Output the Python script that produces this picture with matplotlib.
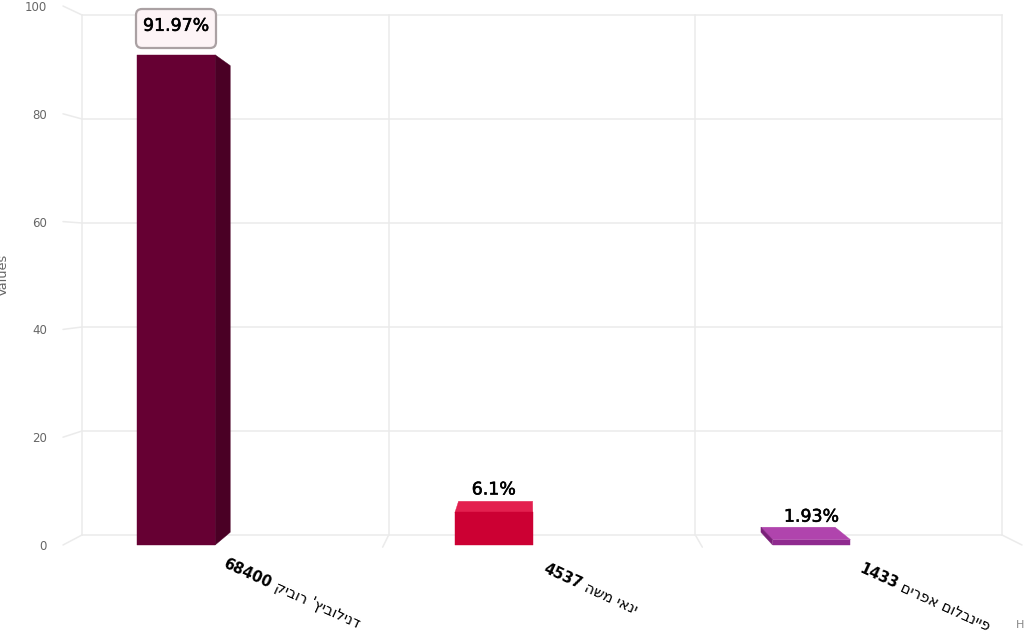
import matplotlib.pyplot as plt
import matplotlib.patheffects as pe
from matplotlib.patches import ConnectionPatch, FancyBboxPatch, Polygon
from matplotlib.transforms import Affine2D

# chart data
names = ["דנילוביץ' רוביק", "ינאי משה", "פיינבלום אפרים"]
counts = ["68400", "4537", "1433"]
percent_labels = ["91.97%", "6.1%", "1.93%"]
# bar heights, the last one is drawn shorter than its label says
bar_values = [91.97, 6.1, 1.0]
y_ticks = [0, 20, 40, 60, 80, 100]

front_colors = ["#660033", "#cc0033", "#8f2a8f"]
top_colors = ["#7a1347", "#e3204f", "#b044ad"]
side_colors = ["#4a0025", "#a80029", "#7a2079"]

W, H = 1024, 636
GREY = "#666666"
GRID = "#ebebeb"

fig = plt.figure(figsize=(W / 100, H / 100), dpi=100)


def rect(left, top, right, bottom):
    return [left / W, 1 - bottom / H, (right - left) / W, (bottom - top) / H]


# pixels from the top left corner, for the few free texts
px = Affine2D().scale(1 / W, -1 / H).translate(0, 1) + fig.transFigure

# back wall
wall = fig.add_axes(rect(82, 15, 1002, 535), zorder=1)
wall.set_xlim(0, 3)
wall.set_ylim(0, 100)
wall.set_xticks(range(4))
wall.set_yticks(y_ticks)
wall.grid(True, color=GRID, linewidth=1.1)
wall.tick_params(length=0, labelbottom=False, labelleft=False)
for line in wall.get_xgridlines() + wall.get_ygridlines():
    line.set_clip_on(False)
for s in wall.spines.values():
    s.set_visible(False)

# front plane, carries the y axis labels
front = fig.add_axes(rect(63, 6, 1022, 545), zorder=2)
front.patch.set_alpha(0)
front.set_xlim(0, 3)
front.set_ylim(0, 100)
front.set_xticks([])
front.set_yticks(y_ticks)
front.tick_params(axis="y", length=0, pad=11.5, labelsize=8.5, labelcolor=GREY)
for s in front.spines.values():
    s.set_visible(False)

# plane the bars stand in
bar_ax = fig.add_axes(rect(65, 12, 1018, 545), zorder=3)
bar_ax.set_xlim(0, 3)
bar_ax.set_ylim(0, 100)
bar_ax.axis("off")

# lines joining the wall to the front plane
for v in y_ticks:
    fig.add_artist(ConnectionPatch((0, v), (0, v), coordsA=front.transData, coordsB=wall.transData,
                                   color=GRID, linewidth=1.1))
fig.add_artist(ConnectionPatch((3, 0), (3, 0), coordsA=front.transData, coordsB=wall.transData,
                               color=GRID, linewidth=1.1))
for i in range(1, 3):
    fig.add_artist(ConnectionPatch((i, -0.4), (i, 0), coordsA=front.transData, coordsB=wall.transData,
                                   color=GRID, linewidth=1.1))

# perspective for the bar depth, in display pixels
VX, VY = 530, H - 280
K = 0.952


def back(p):
    return (VX + (p[0] - VX) * K, VY + (p[1] - VY) * K)


BAR_OFFSET = 0.35
BAR_WIDTH = 0.245

for i, v in enumerate(bar_values):
    c = i + BAR_OFFSET
    bl = bar_ax.transData.transform((c - BAR_WIDTH / 2, 0))
    br = bar_ax.transData.transform((c + BAR_WIDTH / 2, 0))
    tl = bar_ax.transData.transform((c - BAR_WIDTH / 2, v))
    tr = bar_ax.transData.transform((c + BAR_WIDTH / 2, v))
    if tl[1] < VY:
        bar_ax.add_patch(Polygon([tl, tr, back(tr), back(tl)], transform=None, clip_on=False,
                                 facecolor=top_colors[i], edgecolor=top_colors[i], linewidth=0.3))
    if tr[0] < VX - 5:
        bar_ax.add_patch(Polygon([br, tr, back(tr), back(br)], transform=None, clip_on=False,
                                 facecolor=side_colors[i], edgecolor=side_colors[i], linewidth=0.3))
    if tl[0] > VX + 5:
        bar_ax.add_patch(Polygon([bl, tl, back(tl), back(bl)], transform=None, clip_on=False,
                                 facecolor=side_colors[i], edgecolor=side_colors[i], linewidth=0.3))
    bar_ax.add_patch(Polygon([bl, br, tr, tl], transform=None, clip_on=False,
                             facecolor=front_colors[i], edgecolor=front_colors[i], linewidth=0.3))
    # value label above the bar
    lift = 29 if i == 0 else 23
    txt = bar_ax.annotate(percent_labels[i], (c, v), xytext=(0, lift * 0.72), textcoords="offset points",
                          ha="center", va="center", fontsize=12.5, color="black", zorder=6)
    txt.set_path_effects([pe.withStroke(linewidth=0.4, foreground="black")])

# box behind the first label
bar_ax.add_patch(FancyBboxPatch((136, 9), 80, 39, boxstyle="round,pad=0,rounding_size=6", mutation_aspect=1,
                                transform=px, clip_on=False, facecolor="#fdf4f6", edgecolor="#aaa1a3",
                                linewidth=1.6, zorder=5))

# category labels, number bold and the Hebrew in display order since matplotlib has no bidi
label_x = [0.648, 0.624, 0.618]
label_y = -7.4
ROT = -24.5
for i in range(3):
    bar_ax.text(i + label_x[i], label_y, counts[i], rotation=ROT, rotation_mode="anchor", ha="right", va="center",
                fontsize=10.5, fontweight="bold", color="black", clip_on=False)
    bar_ax.text(i + label_x[i], label_y, " " + names[i][::-1], rotation=ROT, rotation_mode="anchor", ha="left",
                va="center", fontsize=10.5, color="black", clip_on=False)

fig.text(3, 275, "Values", transform=px, rotation=90, ha="center", va="center", fontsize=9.3, color=GREY)
fig.text(1016, 625, "H", transform=px, ha="left", va="center", fontsize=8, color="#888888")

plt.savefig("out.png", dpi=100)
plt.close()
